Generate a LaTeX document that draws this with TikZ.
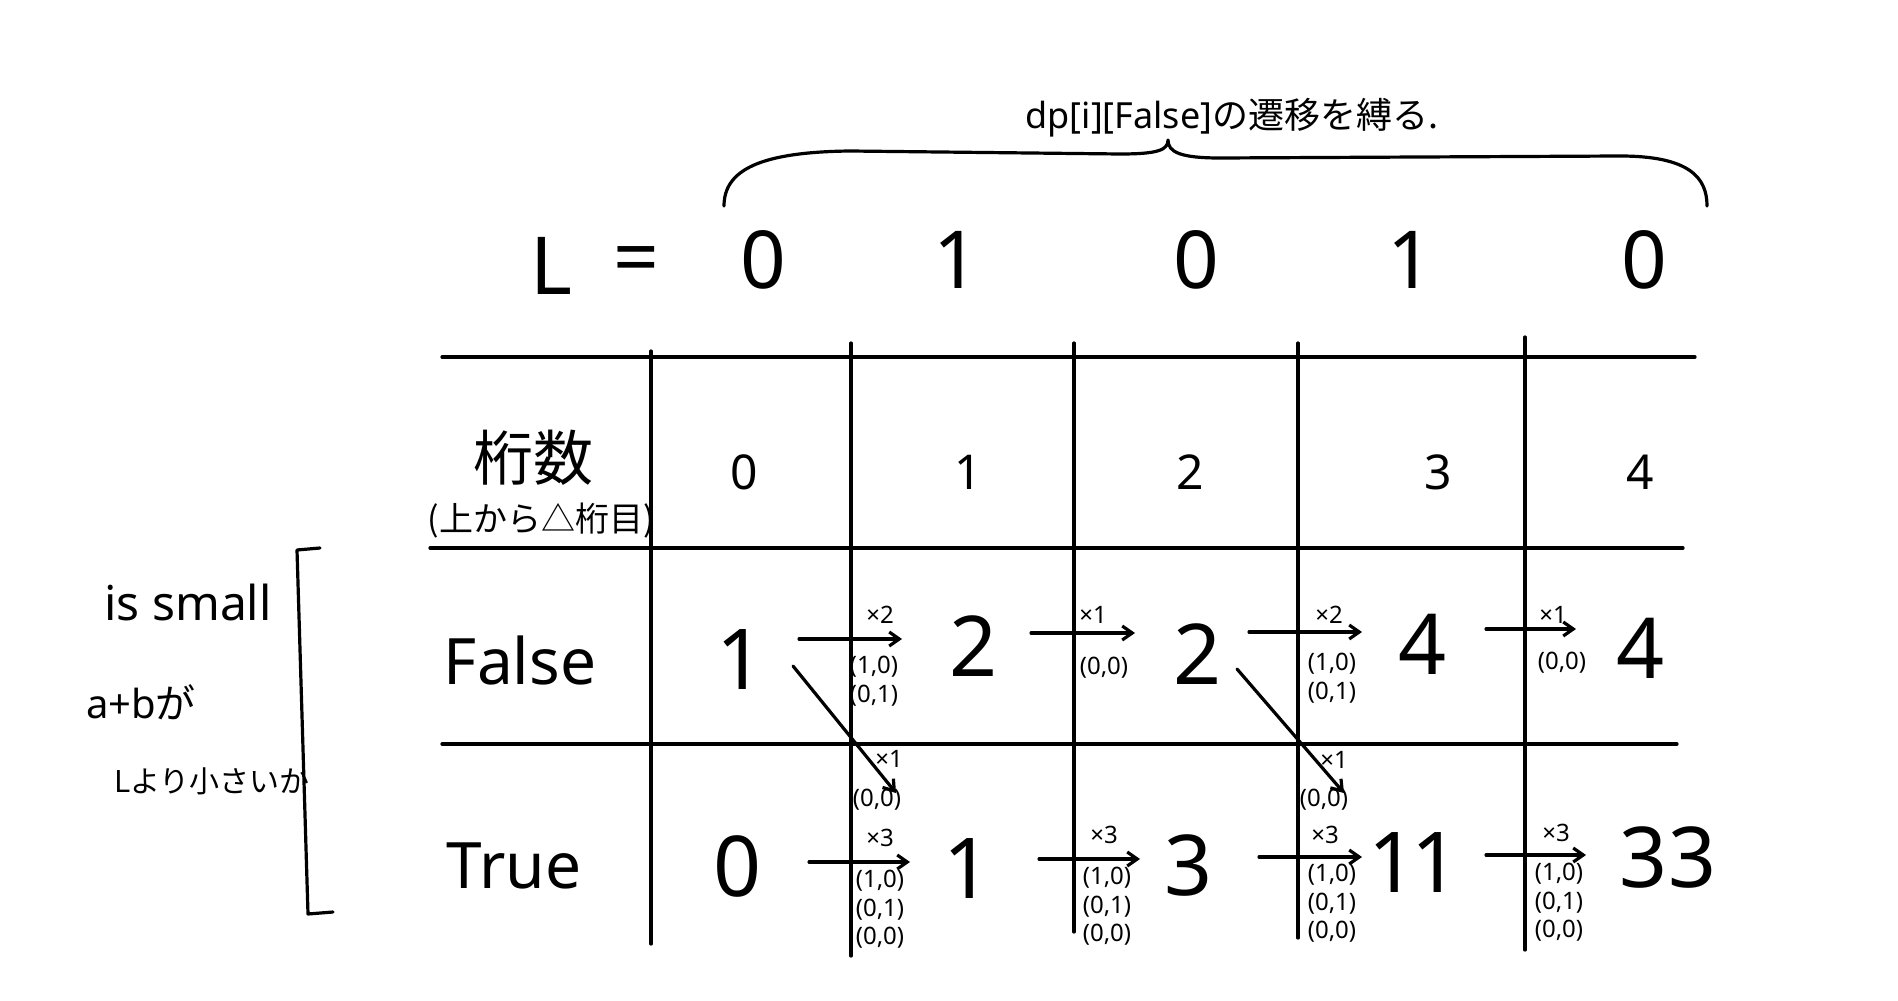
\documentclass[tikz,border=0pt]{standalone}
\usepackage{fontspec}
\setmainfont{Noto Sans}
\newfontfamily\jp{Noto Sans CJK JP}
\usetikzlibrary{arrows.meta}
\newcommand{\fsz}[1]{\fontsize{#1}{#1}\selectfont}
\tikzset{
  ink/.style={line width=1.6pt, line cap=round, line join=round},
  tr/.style={ink, -{Straight Barb[length=5pt,width=7pt]}},
  big/.style={inner sep=0pt, font=\fsz{42}},
  hdr/.style={inner sep=0pt, font=\fsz{24}},
  lrow/.style={inner sep=0pt, font=\fsz{40}},
  rowlab/.style={inner sep=0pt, font=\fsz{32}},
  small/.style={inner sep=0pt, font=\fsz{12}},
}
\begin{document}
\begin{tikzpicture}[x=0.5pt,y=-0.5pt]
\useasboundingbox (0,0) rectangle (1898,1000);
% table lines
\draw[ink] (442,357) -- (1695,357);
\draw[ink] (430,548) -- (1683,548);
\draw[ink] (442,744) -- (1677,744);
\draw[ink] (651,351) -- (651,944);
\draw[ink] (851,343) -- (851,956);
\draw[ink] (1074,343) -- (1074,932);
\draw[ink] (1298,343) -- (1298,938);
\draw[ink] (1525,337) -- (1525,950);
% brace
\draw[ink] (724,206) .. controls (724,170) and (760,152) .. (850,151) -- (1120,154) .. controls (1158,154) and (1168,150) .. (1168,140) .. controls (1168,152) and (1180,158) .. (1220,158) -- (1620,156) .. controls (1690,156) and (1707,178) .. (1707,206);
\node[inner sep=0pt, font=\fsz{18}] (title) at (1232,118) {dp[i][False]{\jp の遷移を縛る.}};
% L row
\node[lrow] (L) at (551,266) {L};
\node[lrow] (eq) at (636,266) {=};
\node[lrow] (l0) at (763,260) {0};
\node[lrow] (l1) at (956,260) {1};
\node[lrow] (l2) at (1196,260) {0};
\node[lrow] (l3) at (1410,260) {1};
\node[lrow] (l4) at (1644,260) {0};
% header row
\node[inner sep=0pt, font=\fsz{30}\jp] (keta) at (533,458) {桁数};
\node[inner sep=0pt, font=\fsz{17}\jp] (ketasub) at (541,521) {(上から△桁目)};
\node[hdr] (h0) at (744,472) {0};
\node[hdr] (h1) at (968,472) {1};
\node[hdr] (h2) at (1190,472) {2};
\node[hdr] (h3) at (1438,472) {3};
\node[hdr] (h4) at (1640,472) {4};
% row labels
\node[rowlab] (false) at (520,660) {False};
\node[rowlab] (true) at (514,866) {True};
% False values
\node[big] (f0) at (741,660) {1};
\node[big] (f1) at (974,646) {2};
\node[big] (f2) at (1198,654) {2};
\node[big] (f3) at (1422,644) {4};
\node[big] (f4) at (1640,648) {4};
% True values
\node[big] (t0) at (738,866) {0};
\node[big] (t1) at (968,869) {1};
\node[big] (t2) at (1189,866) {3};
\node[big] (t3) at (1414,862) {1\kern-3pt1};
\node[big] (t4) at (1668,857) {33};
% arrow end points
\coordinate (a1s) at (799,639); \coordinate (a1e) at (902,639);
\coordinate (a2s) at (1031,633); \coordinate (a2e) at (1135,633);
\coordinate (a3s) at (1249,632); \coordinate (a3e) at (1362,632);
\coordinate (a4s) at (1486,629); \coordinate (a4e) at (1576,629);
\coordinate (d1s) at (793,666); \coordinate (d1e) at (896,793);
\coordinate (d2s) at (1237,669); \coordinate (d2e) at (1344,793);
\coordinate (b1s) at (809,862); \coordinate (b1e) at (910,862);
\coordinate (b2s) at (1039,859); \coordinate (b2e) at (1140,859);
\coordinate (b3s) at (1259,857); \coordinate (b3e) at (1362,857);
\coordinate (b4s) at (1486,855); \coordinate (b4e) at (1586,855);
% False transitions
\draw[tr] (a1s) -- (a1e);
\draw[tr] (a2s) -- (a2e);
\draw[tr] (a3s) -- (a3e);
\draw[tr] (a4s) -- (a4e);
\node[small] (a1m) at (880,615) {×2};
\node[small] (a1p) at (874,683) {\begin{tabular}{@{}c@{}}(1,0)\\[2pt](0,1)\end{tabular}};
\node[small] (a2m) at (1093,615) {×1};
\node[small] (a2p) at (1104,668) {(0,0)};
\node[small] (a3m) at (1329,615) {×2};
\node[small] (a3p) at (1332,680) {\begin{tabular}{@{}c@{}}(1,0)\\[2pt](0,1)\end{tabular}};
\node[small] (a4m) at (1553,615) {×1};
\node[small] (a4p) at (1562,663) {(0,0)};
% diagonals
\draw[tr] (d1s) -- (d1e);
\draw[tr] (d2s) -- (d2e);
\node[small] (d1m) at (889,759) {×1};
\node[small] (d1p) at (877,800) {(0,0)};
\node[small] (d2m) at (1334,760) {×1};
\node[small] (d2p) at (1324,800) {(0,0)};
% True transitions
\draw[tr] (b1s) -- (b1e);
\draw[tr] (b2s) -- (b2e);
\draw[tr] (b3s) -- (b3e);
\draw[tr] (b4s) -- (b4e);
\node[small] (b1m) at (880,838) {×3};
\node[small] (b1p) at (880,911) {\begin{tabular}{@{}c@{}}(1,0)\\[2pt](0,1)\\[2pt](0,0)\end{tabular}};
\node[small] (b2m) at (1104,835) {×3};
\node[small] (b2p) at (1107,908) {\begin{tabular}{@{}c@{}}(1,0)\\[2pt](0,1)\\[2pt](0,0)\end{tabular}};
\node[small] (b3m) at (1325,835) {×3};
\node[small] (b3p) at (1332,905) {\begin{tabular}{@{}c@{}}(1,0)\\[2pt](0,1)\\[2pt](0,0)\end{tabular}};
\node[small] (b4m) at (1556,833) {×3};
\node[small] (b4p) at (1559,904) {\begin{tabular}{@{}c@{}}(1,0)\\[2pt](0,1)\\[2pt](0,0)\end{tabular}};
% left annotation
\node[inner sep=0pt, font=\fsz{24}] (issmall) at (188,602) {is small};
\node[inner sep=0pt, font=\fsz{20}] (apb) at (141,702) {a+b{\jp が}};
\node[inner sep=0pt, font=\fsz{15}\jp] (lyori) at (212,781) {Lより小さいか};
\draw[ink] (320,548) -- (297,550) -- (308,914) -- (333,912);
\end{tikzpicture}
\end{document}
